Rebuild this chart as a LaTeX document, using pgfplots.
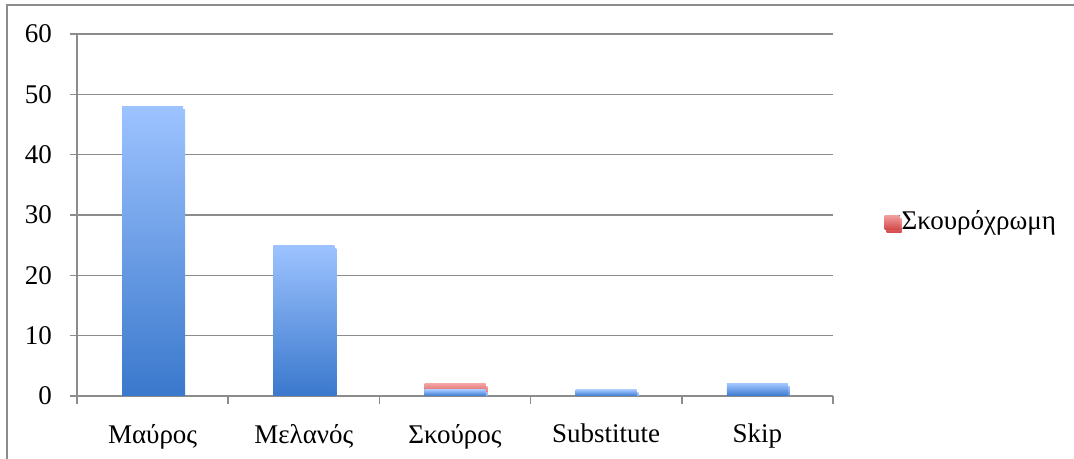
\documentclass[border=0pt]{standalone}
\usepackage{pgfplots}
\pgfplotsset{compat=1.18}
\usepackage{fontspec}
\setmainfont{Liberation Serif}
\definecolor{bartop}{HTML}{9DC3FF}
\definecolor{barbot}{HTML}{3A78CC}
\definecolor{redtop}{HTML}{F2A0A0}
\definecolor{redbot}{HTML}{D44A4A}
\definecolor{gridgray}{HTML}{8C8C8C}
\begin{document}
\fontsize{27bp}{32bp}\selectfont
\begin{tikzpicture}[x=1bp,y=1bp]
\path[use as bounding box] (0,0) rectangle (1074,459);
\draw[gridgray, line width=1.5bp] (7,0) -- (7,454) -- (1074,454);
\begin{axis}[
    at={(77bp,63bp)}, anchor=south west,
    scale only axis,
    width=756bp, height=362bp,
    ybar, bar shift=0pt,
    bar width=61bp,
    xmin=-0.5, xmax=4.5,
    ymin=0, ymax=60,
    ytick={0,10,...,60},
    xtick={0,1,2,3,4},
    xticklabels={Μαύρος, Μελανός, Σκούρος, Substitute, Skip},
    minor xtick={-0.5,0.5,...,4.5},
    major x tick style={draw=none},
    axis x line*=bottom,
    axis y line*=left,
    tick align=outside,
    major tick length=7bp,
    minor tick length=8bp,
    every tick/.style={gridgray, line width=1.5bp},
    axis line style={gridgray, line width=1.5bp},
    ymajorgrids,
    grid style={gridgray, line width=1.5bp},
    /pgf/number format/assume math mode=true,
    tick label style={font=\fontsize{27bp}{32bp}\selectfont},
    yticklabel style={xshift=-9bp},
    xticklabel style={yshift=-12bp},
    legend style={at={(1.064,0.48)}, anchor=west, draw=none, fill=none,
        font=\fontsize{27bp}{32bp}\selectfont},
    legend cell align=left,
    bar shadow/.style={preaction={fill=black!9, draw=none, transform canvas={xshift=2bp, yshift=-3bp}}},
    blue bar/.style={draw=none, top color=bartop, bottom color=barbot, bar shadow},
]
% Σκουρόχρωμη: cumulative top of the stack on Σκούρος (1 + 1)
\addplot[draw=none, top color=redtop, bottom color=redbot, bar shadow,
    legend image code/.code={\fill[top color=redtop, bottom color=redbot] (0bp,-7bp) rectangle (15bp,7bp);}]
    coordinates {(2,2)};
\addlegendentry{Σκουρόχρωμη}
\addplot[blue bar, forget plot] coordinates {(0,48)};
\addplot[blue bar, forget plot] coordinates {(1,25)};
\addplot[blue bar, forget plot] coordinates {(2,1)};
\addplot[blue bar, forget plot] coordinates {(3,1)};
\addplot[blue bar, forget plot] coordinates {(4,2)};
\end{axis}
\end{tikzpicture}
\end{document}
